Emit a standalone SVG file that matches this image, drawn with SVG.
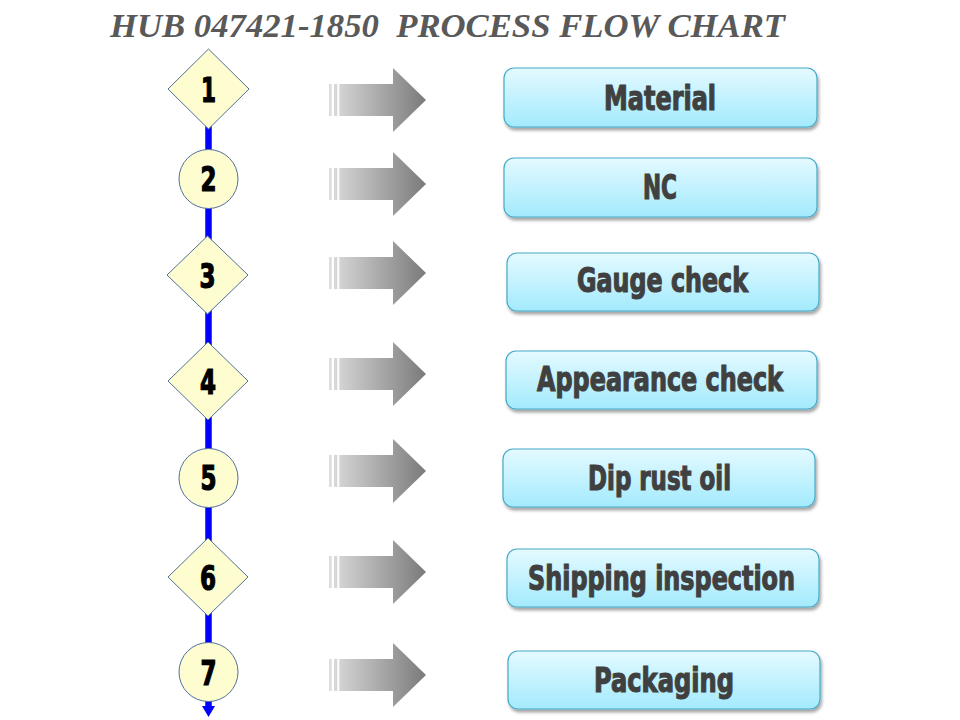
<svg xmlns="http://www.w3.org/2000/svg" width="960" height="720" viewBox="0 0 960 720">
<defs>
  <linearGradient id="arrowGrad" gradientUnits="userSpaceOnUse" x1="329" y1="0" x2="426" y2="0">
    <stop offset="0" stop-color="#dedede"/>
    <stop offset="1" stop-color="#7a7a7a"/>
  </linearGradient>
  <linearGradient id="boxGrad" x1="0" y1="0" x2="0" y2="1">
    <stop offset="0" stop-color="#e4faff"/>
    <stop offset="1" stop-color="#a3eafd"/>
  </linearGradient>
  <filter id="shadow" x="-5%" y="-10%" width="112%" height="130%">
    <feDropShadow dx="1.5" dy="3" stdDeviation="1.8" flood-color="#000" flood-opacity="0.35"/>
  </filter>
  <g id="grayArrow">
    <rect x="329" y="-16" width="2.7" height="32"/>
    <rect x="334" y="-16" width="3.3" height="32"/>
    <path d="M339.3,-16 H393 V-32 L426,0 L393,32 V16 H339.3 Z"/>
  </g>
</defs>
<style>
  .title { font-family: "Liberation Serif", "Times New Roman", serif; font-weight: bold; font-style: italic; font-size: 34px; fill: #595959; white-space: pre; }
  .num { font-family: "Liberation Sans Narrow", "DejaVu Sans Condensed", "Liberation Sans", sans-serif; font-weight: bold; font-size: 33px; fill: #000; stroke: #000; stroke-width: 1.2; text-anchor: middle; }
  .lbl { font-family: "Liberation Sans Narrow", "DejaVu Sans Condensed", "Liberation Sans", sans-serif; font-weight: bold; font-size: 33px; fill: #404040; stroke: #404040; stroke-width: 1.1; }
  .diamond, .circle { fill: #fdfdcf; stroke: #51709c; stroke-width: 1; }
  .box { fill: url(#boxGrad); stroke: #45aac8; stroke-width: 1.2; filter: url(#shadow); }
  .garrow { fill: url(#arrowGrad); }
  .spine { stroke: #0000ff; stroke-width: 6.5; fill: none; }
</style>

<text class="title" x="110" y="37" textLength="675" lengthAdjust="spacingAndGlyphs" xml:space="preserve">HUB 047421-1850  PROCESS FLOW CHART</text>

<g id="connectors">
  <line class="spine" x1="208.5" y1="125" x2="208.5" y2="708"/>
  <polygon points="202,706 215,706 208.5,717" fill="#0000ff"/>
  <g class="garrow">
    <use href="#grayArrow" transform="translate(0,100)"/>
    <use href="#grayArrow" transform="translate(0,184)"/>
    <use href="#grayArrow" transform="translate(0,273)"/>
    <use href="#grayArrow" transform="translate(0,374)"/>
    <use href="#grayArrow" transform="translate(0,471)"/>
    <use href="#grayArrow" transform="translate(0,572)"/>
    <use href="#grayArrow" transform="translate(0,675)"/>
  </g>
</g>

<g id="step1">
  <polygon class="diamond" points="208.5,49 249,89 208.5,129 168,89"/>
  <text class="num" x="208.5" y="102" textLength="15" lengthAdjust="spacingAndGlyphs">1</text>
</g>
<g id="step2">
  <circle class="circle" cx="208.5" cy="179" r="29.5"/>
  <text class="num" x="208.5" y="191" textLength="16" lengthAdjust="spacingAndGlyphs">2</text>
</g>
<g id="step3">
  <polygon class="diamond" points="207.5,236 248,275 207.5,314 167,275"/>
  <text class="num" x="207.5" y="288" textLength="16" lengthAdjust="spacingAndGlyphs">3</text>
</g>
<g id="step4">
  <polygon class="diamond" points="208,342 248,381 208,420 168,381"/>
  <text class="num" x="208" y="394" textLength="16" lengthAdjust="spacingAndGlyphs">4</text>
</g>
<g id="step5">
  <circle class="circle" cx="208.5" cy="478" r="29.5"/>
  <text class="num" x="208.5" y="490" textLength="16" lengthAdjust="spacingAndGlyphs">5</text>
</g>
<g id="step6">
  <polygon class="diamond" points="208,538 248,577 208,616 168,577"/>
  <text class="num" x="208" y="590" textLength="16" lengthAdjust="spacingAndGlyphs">6</text>
</g>
<g id="step7">
  <circle class="circle" cx="208.5" cy="672" r="29.5"/>
  <text class="num" x="208.5" y="685" textLength="16" lengthAdjust="spacingAndGlyphs">7</text>
</g>

<g id="box1">
  <rect class="box" x="504" y="68" width="313" height="59" rx="10"/>
  <text class="lbl" x="604" y="110" textLength="112" lengthAdjust="spacingAndGlyphs">Material</text>
</g>
<g id="box2">
  <rect class="box" x="504" y="158" width="313" height="59" rx="10"/>
  <text class="lbl" x="643" y="199" textLength="34" lengthAdjust="spacingAndGlyphs">NC</text>
</g>
<g id="box3">
  <rect class="box" x="507" y="253" width="312" height="58" rx="10"/>
  <text class="lbl" x="577" y="292" textLength="171" lengthAdjust="spacingAndGlyphs">Gauge check</text>
</g>
<g id="box4">
  <rect class="box" x="506" y="351" width="311" height="58" rx="10"/>
  <text class="lbl" x="537" y="391" textLength="246" lengthAdjust="spacingAndGlyphs">Appearance check</text>
</g>
<g id="box5">
  <rect class="box" x="503" y="449" width="312" height="58" rx="10"/>
  <text class="lbl" x="588" y="490" textLength="143" lengthAdjust="spacingAndGlyphs">Dip rust oil</text>
</g>
<g id="box6">
  <rect class="box" x="507" y="549" width="312" height="58" rx="10"/>
  <text class="lbl" x="528" y="590" textLength="267" lengthAdjust="spacingAndGlyphs">Shipping inspection</text>
</g>
<g id="box7">
  <rect class="box" x="508" y="651" width="312" height="58" rx="10"/>
  <text class="lbl" x="594" y="692" textLength="140" lengthAdjust="spacingAndGlyphs">Packaging</text>
</g>
</svg>
